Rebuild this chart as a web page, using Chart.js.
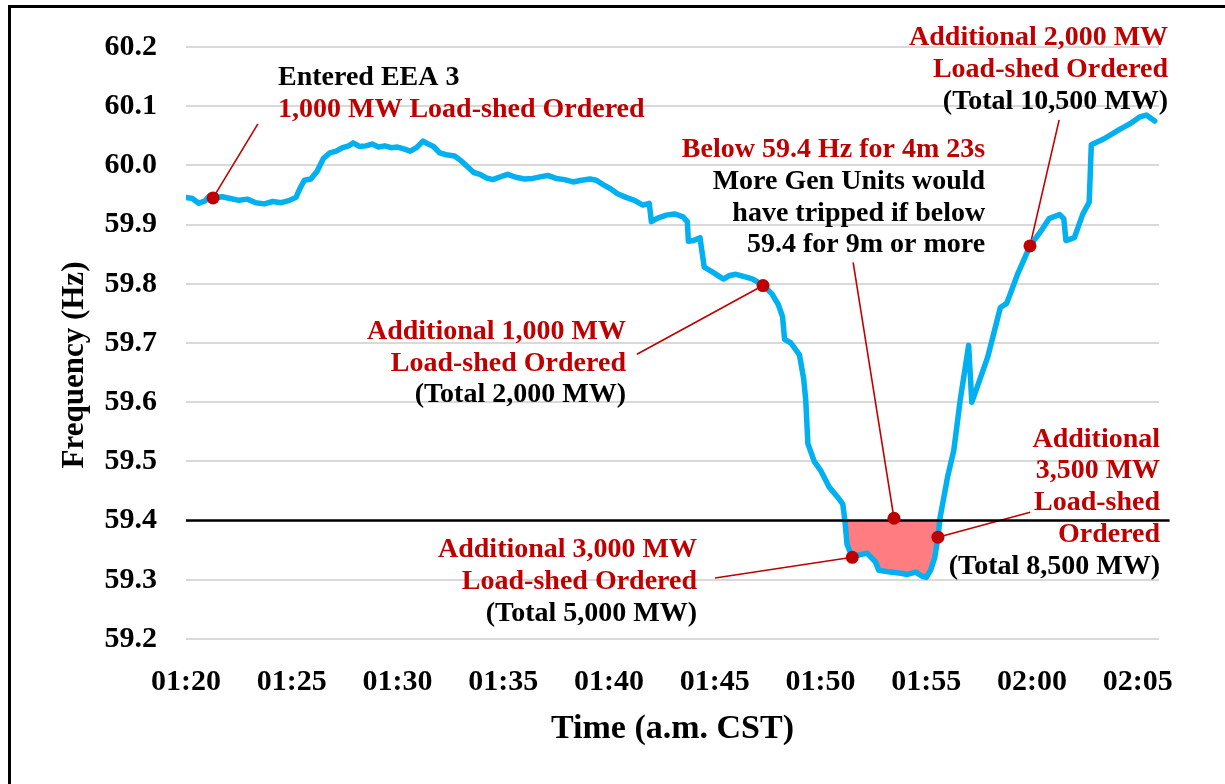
<!DOCTYPE html>
<html><head><meta charset="utf-8">
<script src="https://cdn.jsdelivr.net/npm/chart.js@4.4.1/dist/chart.umd.min.js"></script>
<style>
html,body{margin:0;padding:0;background:#fff;}
#wrap{position:relative;width:1225px;height:784px;overflow:hidden;background:#fff;}
#frame{position:absolute;left:8px;top:5px;width:1400px;height:1000px;border-left:3px solid #000;border-top:3px solid #000;pointer-events:none;}
canvas{position:absolute;left:0;top:0;}
</style></head><body>
<div id="wrap"><canvas id="c" width="1225" height="784"></canvas><div id="frame"></div></div>
<script>
// ---- data (minutes after 01:20, frequency in Hz) ----
const times = [
  0.0,0.3,0.6,0.9,1.1,1.3,1.7,2.1,2.5,2.9,
  3.3,3.7,4.1,4.5,4.9,5.2,5.4,5.6,5.9,6.2,
  6.5,6.8,7.1,7.4,7.7,7.9,8.2,8.5,8.8,9.1,
  9.4,9.7,10.0,10.3,10.6,10.9,11.2,11.4,11.7,12.0,
  12.3,12.7,13.0,13.3,13.6,13.9,14.2,14.5,14.8,15.2,
  15.6,16.0,16.4,16.8,17.1,17.5,17.9,18.3,18.7,19.1,
  19.4,19.7,20.1,20.4,20.8,21.2,21.6,21.9,22.0,22.3,
  22.7,23.1,23.5,23.7,23.75,24.0,24.3,24.5,24.8,25.1,
  25.4,25.7,26.0,26.4,26.8,27.3,27.7,28.0,28.2,28.3,
  28.6,29.0,29.2,29.3,29.4,29.7,30.0,30.4,30.8,31.05,
  31.15,31.25,31.5,31.8,32.2,32.6,32.75,33.3,33.8,34.1,
  34.5,34.8,35.0,35.2,35.4,35.55,35.65,36.0,36.3,36.6,
  37.0,37.15,37.4,37.9,38.5,38.8,39.3,39.9,40.4,40.8,
  41.3,41.5,41.6,42.0,42.4,42.7,42.8,43.4,44.1,44.7,
  45.1,45.4,45.8
];
const freq = [
  59.946,59.944,59.936,59.940,59.948,59.945,59.947,59.944,59.941,59.943,
  59.937,59.935,59.939,59.937,59.941,59.946,59.962,59.975,59.977,59.990,
  60.012,60.021,60.024,60.030,60.033,60.038,60.032,60.033,60.036,60.031,
  60.033,60.030,60.031,60.028,60.024,60.030,60.041,60.037,60.032,60.021,
  60.018,60.016,60.008,59.998,59.988,59.985,59.979,59.976,59.980,59.985,
  59.980,59.977,59.978,59.981,59.983,59.978,59.976,59.972,59.975,59.977,
  59.975,59.968,59.960,59.952,59.946,59.941,59.933,59.936,59.905,59.911,
  59.916,59.918,59.913,59.905,59.872,59.873,59.878,59.828,59.822,59.815,
  59.808,59.814,59.816,59.812,59.808,59.797,59.783,59.765,59.745,59.706,
  59.700,59.680,59.640,59.603,59.530,59.500,59.485,59.457,59.440,59.428,
  59.400,59.360,59.338,59.342,59.345,59.330,59.316,59.313,59.311,59.309,
  59.313,59.306,59.304,59.316,59.338,59.372,59.405,59.473,59.519,59.603,
  59.696,59.600,59.625,59.676,59.760,59.767,59.815,59.864,59.888,59.910,
  59.917,59.910,59.873,59.878,59.918,59.938,60.035,60.045,60.060,60.072,
  60.082,60.085,60.075
];
const threshold = 59.4;
const thresholdTimes = [0, 46.5];

const xTickMinutes = [0,5,10,15,20,25,30,35,40,45];
const xTickLabels = ['01:20','01:25','01:30','01:35','01:40','01:45','01:50','01:55','02:00','02:05'];
const yTicks = [59.2,59.3,59.4,59.5,59.6,59.7,59.8,59.9,60.0,60.1,60.2];

// event markers
const dotTimes = [1.28, 27.28, 31.5, 33.47, 35.55, 39.9];
const dotFreq  = [59.945, 59.797, 59.338, 59.404, 59.372, 59.864];
// leader ends (data coords)
const leaderTimes = [3.40, 21.32, 25.01, 31.54, 39.91, 41.28];
const leaderFreq  = [60.070, 59.681, 59.303, 59.836, 59.414, 60.077];

// annotation texts
const annotTexts = [
  ['Entered EEA 3','1,000 MW Load-shed Ordered'],
  ['Additional 1,000 MW','Load-shed Ordered','(Total 2,000 MW)'],
  ['Additional 3,000 MW','Load-shed Ordered','(Total 5,000 MW)'],
  ['Below 59.4 Hz for 4m 23s','More Gen Units would','have tripped if below','59.4 for 9m or more'],
  ['Additional','3,500 MW','Load-shed','Ordered','(Total 8,500 MW)'],
  ['Additional 2,000 MW','Load-shed Ordered','(Total 10,500 MW)']
];
const annotRed = [
  [false,true],
  [true,true,false],
  [true,true,false],
  [true,false,false,false],
  [true,true,true,true,false],
  [true,true,false]
];
// layout of annotation blocks (anchor in data coords, first line centre)
const annotAnchorT = [4.35, 20.80, 24.16, 37.78, 46.05, 46.43];
const annotAnchorF = [60.148, 59.719, 59.350, 60.026, 59.537, 60.215];
const annotAlign = ['left','right','right','right','right','right'];

const SERIF = "'Liberation Serif','Times New Roman',serif";
const RED = '#C00000';

const annotPlugin = {
  id: 'annot',
  beforeDatasetsDraw(chart) {
    const {ctx, scales: {x, y}} = chart;
    ctx.save();
    ctx.strokeStyle = RED;
    ctx.lineWidth = 1.6;
    for (let i = 0; i < dotTimes.length; i++) {
      ctx.beginPath();
      ctx.moveTo(x.getPixelForValue(dotTimes[i]), y.getPixelForValue(dotFreq[i]));
      ctx.lineTo(x.getPixelForValue(leaderTimes[i]), y.getPixelForValue(leaderFreq[i]));
      ctx.stroke();
    }
    ctx.restore();
  },
  afterDraw(chart) {
    const {ctx, scales: {x, y}, chartArea} = chart;
    ctx.save();
    ctx.font = 'bold 28px ' + SERIF;
    ctx.textBaseline = 'middle';
    const lh = 31.7;
    annotTexts.forEach((lines, b) => {
      const px = x.getPixelForValue(annotAnchorT[b]);
      const py = y.getPixelForValue(annotAnchorF[b]);
      ctx.textAlign = annotAlign[b];
      lines.forEach((t, i) => {
        ctx.fillStyle = annotRed[b][i] ? RED : '#000';
        ctx.fillText(t, px, py + i * lh);
      });
    });
    // axis titles
    ctx.fillStyle = '#000';
    ctx.textAlign = 'center';
    ctx.font = 'bold 34px ' + SERIF;
    ctx.fillText('Time (a.m. CST)', (chartArea.left + chartArea.right) / 2, chartArea.bottom + 90);
    ctx.save();
    ctx.translate(chartArea.left - 111, (chartArea.top + chartArea.bottom) / 2 + 22);
    ctx.rotate(-Math.PI / 2);
    ctx.font = 'bold 31px ' + SERIF;
    ctx.fillText('Frequency (Hz)', 0, 0);
    ctx.restore();
    ctx.restore();
  }
};

new Chart(document.getElementById('c'), {
  type: 'line',
  data: {
    datasets: [
      {
        label: 'events', type: 'scatter',
        data: dotTimes.map((t, i) => ({x: t, y: dotFreq[i]})),
        pointRadius: 6.5, pointBackgroundColor: RED, pointBorderWidth: 0,
        showLine: false, clip: false
      },
      {
        label: '59.4 Hz',
        data: thresholdTimes.map(t => ({x: t, y: threshold})),
        borderColor: '#000', borderWidth: 2.5, pointRadius: 0, clip: false, fill: false
      },
      {
        label: 'Frequency',
        data: times.map((t, i) => ({x: t, y: freq[i]})),
        borderColor: '#00B0F0', borderWidth: 5.5, pointRadius: 0, tension: 0,
        borderJoinStyle: 'round', borderCapStyle: 'round',
        fill: {target: {value: threshold}, above: 'rgba(0,0,0,0)', below: '#FF7C80'}
      }
    ]
  },
  options: {
    responsive: false, animation: false, devicePixelRatio: 1,
    layout: {padding: {top: 46, right: 66, left: 0, bottom: 0}},
    plugins: {legend: {display: false}, tooltip: {enabled: false}},
    scales: {
      x: {
        type: 'linear', min: 0, max: 46,
        afterFit(s) { s.height = 145; },
        afterBuildTicks(s) { s.ticks = xTickMinutes.map(v => ({value: v})); },
        grid: {display: false}, border: {display: false},
        ticks: {
          autoSkip: false, maxRotation: 0, padding: 17, color: '#000',
          font: {family: SERIF, size: 30, weight: 'bold'},
          callback: (v, i) => xTickLabels[i]
        }
      },
      y: {
        type: 'linear', min: 59.2, max: 60.2,
        afterFit(s) { s.width = 186; },
        afterBuildTicks(s) { s.ticks = yTicks.map(v => ({value: v})); },
        grid: {color: '#D9D9D9', lineWidth: 2, drawTicks: false},
        border: {display: false},
        ticks: {
          padding: 29, color: '#000',
          font: {family: SERIF, size: 30, weight: 'bold'},
          callback: v => Number(v).toFixed(1)
        }
      }
    }
  },
  plugins: [annotPlugin]
});
</script>
</body></html>
